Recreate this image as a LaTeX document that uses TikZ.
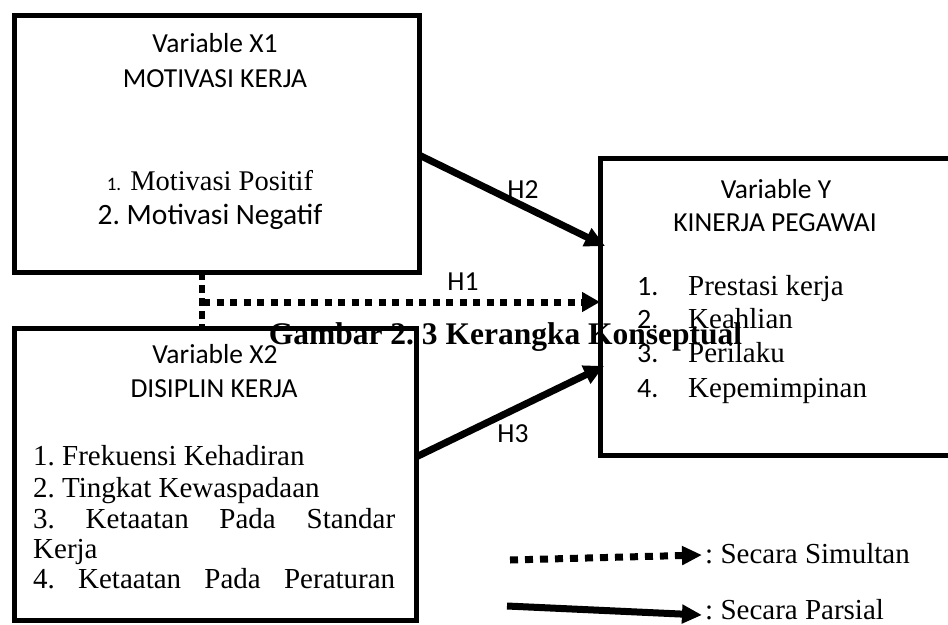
\documentclass[tikz,border=0pt]{standalone}
\usepackage{fontspec}
\setmainfont{Liberation Serif}
\newfontfamily\calfont{Carlito}
\usetikzlibrary{arrows.meta,calc}
\frenchspacing
\begin{document}
\frenchspacing
\begin{tikzpicture}[x=1pt,y=-1pt,
  box/.style={draw,line width=5pt,inner sep=0pt,outer sep=0pt},
  hd/.style={font=\calfont\fontsize{27.5}{30}\selectfont,anchor=base,inner sep=0pt},
  itm/.style={font=\fontsize{29}{31}\selectfont,anchor=base west,inner sep=0pt},
  num/.style={font=\calfont\fontsize{28}{30}\selectfont,anchor=base west,inner sep=0pt},
  parsial/.style={line width=7pt,-{Triangle[length=20pt,width=19pt]}},
  simultan/.style={line width=7pt,dash pattern=on 7pt off 6.5pt,-{Triangle[length=18pt,width=19pt]}},
  dotv/.style={line width=6pt,dash pattern=on 8pt off 5pt},
]
\clip (0,0) rectangle (948,624);
\fill[white] (0,0) rectangle (948,624);

% boxes
\node[box,minimum width=405pt,minimum height=257pt] (x1) at (216.5,143.5) {};
\node[box,minimum width=402pt,minimum height=292pt] (x2) at (215,474) {};
\node[box,minimum width=360pt,minimum height=297pt] (yv) at (780,306.5) {};

% X1 texts
\node[hd] (x1a) at (215,52) {Variable X1};
\node[hd] (x1b) at (215,87) {MOTIVASI KERJA};
\node[anchor=base,inner sep=0pt] (x1c) at (210,190) {{\calfont\fontsize{19}{22}\selectfont 1.}\hspace{9pt}{\fontsize{28.5}{31}\selectfont Motivasi Positif}};
\node[anchor=base,inner sep=0pt,font=\calfont\fontsize{29.5}{32}\selectfont] (x1d) at (210,224) {2. Motivasi Negatif};

% X2 texts
\node[hd] (x2a) at (215,363) {Variable X2};
\node[hd] (x2b) at (214,397) {DISIPLIN KERJA};
\node[itm] (x2c) at (33,465) {1. Frekuensi Kehadiran};
\node[itm] (x2d) at (33,497) {2. Tingkat Kewaspadaan};
\node[itm] (x2e) at (33,528) {\hbox to 362pt{3.\hfill Ketaatan\hfill Pada\hfill Standar}};
\node[itm] (x2f) at (33,558) {Kerja};
\node[itm] (x2g) at (33,588) {\hbox to 362pt{4.\hfill Ketaatan\hfill Pada\hfill Peraturan}};

% Y texts
\node[hd] (ya) at (776,198) {Variable Y};
\node[hd] (yb) at (775,231) {KINERJA PEGAWAI};
\node[num] (yn1) at (637,295) {1.};
\node[num] (yn2) at (637,328) {2.};
\node[num] (yn3) at (637,362) {3.};
\node[num] (yn4) at (637,397) {4.};
\node[itm] (yi1) at (688,295) {Prestasi kerja};
\node[itm] (yi2) at (688,328) {Keahlian};
\node[itm] (yi3) at (688,362) {Perilaku};
\node[itm] (yi4) at (688,397) {Kepemimpinan};

% connectors
\coordinate (vtop) at (202,0 |- x1.south);
\coordinate (vbot) at (202,0 |- x2.north);
\coordinate (hmid) at (203,302);
\draw[dotv] (vtop) -- (vbot);
\draw[simultan] (hmid) -- (hmid -| yv.west);
\draw[parsial] (x1.east |- 0,155) -- ([xshift=5pt]yv.west |- 0,246);
\draw[parsial] (x2.east |- 0,457) -- ([xshift=4pt]yv.west |- 0,366);

% hypothesis labels
\node[hd] (h1) at (463,290) {H1};
\node[hd] (h2) at (523,198) {H2};
\node[hd] (h3) at (513,442) {H3};

% legend
\coordinate (la1) at (510,560);
\coordinate (la2) at (702,555);
\coordinate (lb1) at (507,606);
\coordinate (lb2) at (702,615);
\draw[line width=7pt,dash pattern=on 8pt off 7pt,-{Triangle[length=20pt,width=18pt]}] (la1) -- (la2);
\draw[line width=7pt,-{Triangle[length=20pt,width=18pt]}] (lb1) -- (lb2);
\node[itm] (lt1) at (705,563) {: Secara Simultan};
\node[itm] (lt2) at (705,619) {: Secara Parsial};

% caption
\node[anchor=base,inner sep=0pt,font=\bfseries\fontsize{31.5}{34}\selectfont] (cap) at (505.5,344) {Gambar 2. 3 Kerangka Konseptual};
\end{tikzpicture}
\end{document}
